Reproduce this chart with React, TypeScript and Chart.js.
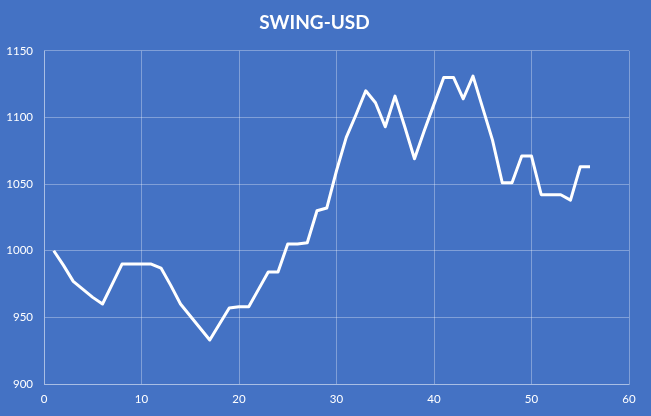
import React, { useEffect, useRef } from "react";
import { Chart, registerables } from "chart.js";

Chart.register(...registerables);

const TITLE = "SWING-USD";
const xValues = [
  1, 2, 3, 4, 5, 6, 7, 8, 9, 10, 11, 12, 13, 14, 15, 16, 17, 18, 19, 20,
  21, 22, 23, 24, 25, 26, 27, 28, 29, 30, 31, 32, 33, 34, 35, 36, 37, 38, 39, 40,
  41, 42, 43, 44, 45, 46, 47, 48, 49, 50, 51, 52, 53, 54, 55, 56,
];
const priceValues = [
  1000, 989, 977, 971, 965, 960, 975, 990, 990, 990, 990, 987, 974, 960, 951, 942, 933, 945, 957, 958,
  958, 971, 984, 984, 1005, 1005, 1006, 1030, 1032, 1060, 1085, 1102, 1120, 1111, 1093, 1116, 1093, 1069, 1090, 1110,
  1130, 1130, 1114, 1131, 1107, 1083, 1051, 1051, 1071, 1071, 1042, 1042, 1042, 1038, 1063, 1063,
];
const xTicks = { min: 0, max: 60, step: 10 };
const yTicks = { min: 900, max: 1150, step: 50 };

const BG = "#4472C4";
const GRID = "rgba(255,255,255,0.32)";
const TEXT = "#FFFFFF";

const bgPlugin = {
  id: "bgFill",
  beforeDraw(chart: any) {
    const { ctx, width, height } = chart;
    ctx.save();
    ctx.fillStyle = BG;
    ctx.fillRect(0, 0, width, height);
    ctx.restore();
  },
};

export default function App() {
  const ref = useRef<HTMLCanvasElement | null>(null);

  useEffect(() => {
    document.body.style.margin = "0";
    if (!ref.current) return;
    const points = xValues.map((x, i) => ({ x, y: priceValues[i] }));
    const chart = new Chart(ref.current, {
      type: "line",
      data: {
        datasets: [
          {
            data: points,
            borderColor: "#FFFFFF",
            borderWidth: 3,
            pointRadius: 0,
            tension: 0,
            borderJoinStyle: "round",
            fill: false,
          },
        ],
      },
      plugins: [bgPlugin],
      options: {
        animation: false,
        responsive: false,
        layout: { padding: { left: 0, right: 22, top: 0, bottom: 0 } },
        plugins: {
          legend: { display: false },
          tooltip: { enabled: false },
          title: {
            display: true,
            text: TITLE,
            color: TEXT,
            font: { family: "Lato", size: 19, weight: "bold" },
            padding: { top: 11, bottom: 17 },
          },
        },
        scales: {
          x: {
            type: "linear",
            min: xTicks.min,
            max: xTicks.max,
            ticks: {
              stepSize: xTicks.step,
              color: TEXT,
              font: { family: "Lato", size: 11.5 },
              padding: 8,
              maxRotation: 0,
              callback: (v: any) => String(v),
            },
            grid: { color: GRID, drawTicks: false, lineWidth: 1 },
            border: { color: GRID, width: 1 },
            afterFit(scale: any) {
              scale.height = 32;
            },
          },
          y: {
            min: yTicks.min,
            max: yTicks.max,
            ticks: {
              stepSize: yTicks.step,
              color: TEXT,
              font: { family: "Lato", size: 11.5 },
              padding: 11,
              callback: (v: any) => String(v),
            },
            grid: { color: GRID, drawTicks: false, lineWidth: 1 },
            border: { color: GRID, width: 1 },
            afterFit(scale: any) {
              scale.width = 44;
            },
          },
        },
      },
    } as any);
    return () => chart.destroy();
  }, []);

  return (
    <div style={{ width: 651, height: 416, background: BG }}>
      <canvas ref={ref} width={651} height={416} style={{ display: "block" }} />
    </div>
  );
}
